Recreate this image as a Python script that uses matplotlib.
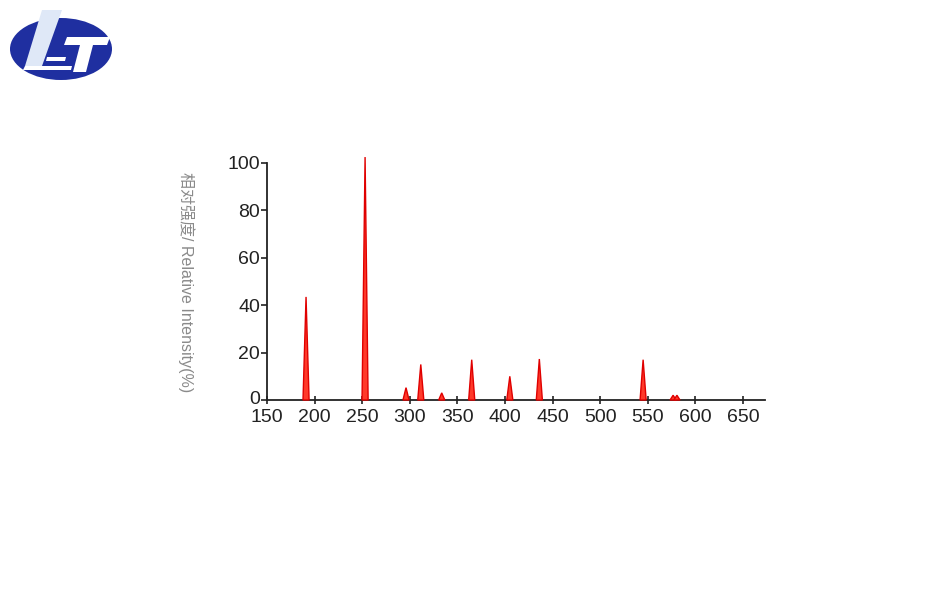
import matplotlib
matplotlib.use("Agg")
import matplotlib.pyplot as plt
import matplotlib.transforms as mtransforms
from matplotlib.patches import Ellipse, Polygon
import numpy as np

plt.rcParams['font.family'] = ['Liberation Sans', 'Noto Sans CJK SC', 'DejaVu Sans']

# Data
wavelengths = [191, 253, 296, 311.5, 333.5, 365, 405, 436, 545, 576.5, 580.5]
intensities = [43.5, 102.5, 5.2, 15, 3, 17, 10, 17.3, 17, 2, 2]
x_ticks = [150, 200, 250, 300, 350, 400, 450, 500, 550, 600, 650]
y_ticks = [0, 20, 40, 60, 80, 100]
ylabel = "相对强度/ Relative Intensity(%)"

W, H = 936, 606
fig = plt.figure(figsize=(W / 100, H / 100), dpi=100)

ax = fig.add_axes([267 / W, 1 - 400 / H, (765 - 267) / W, (400 - 153.5) / H])
ax.set_xlim(150, 673)
ax.set_ylim(0, 104)

half_w = 3.2
for wl, h in zip(wavelengths, intensities):
    xs = [wl - half_w, wl, wl + half_w]
    ys = [0, h, 0]
    ax.fill(xs, ys, facecolor='#ff3a2a', edgecolor='#e00000', lw=1.0, clip_on=False, zorder=3)

for s in ['top', 'right']:
    ax.spines[s].set_visible(False)
ax.spines['left'].set_bounds(0, 100)
ax.spines['left'].set_linewidth(1.3)
ax.spines['bottom'].set_linewidth(1.3)
ax.spines['left'].set_color('#222222')
ax.spines['bottom'].set_color('#222222')
ax.set_xticks(x_ticks)
ax.set_yticks(y_ticks)
ax.tick_params(axis='both', direction='out', length=4, width=1.2, labelsize=14,
               colors='#222222', pad=1)
ax.tick_params(axis='x', direction='inout', length=6, pad=3.5)
for lbl in ax.get_xticklabels() + ax.get_yticklabels():
    lbl.set_fontstretch('condensed')

# nudge the y "0" label up slightly so it does not collide with "150"
ylbls = ax.get_yticklabels()
shift = mtransforms.ScaledTranslation(0, 3 / 100, fig.dpi_scale_trans)
ylbls[0].set_transform(ylbls[0].get_transform() + shift)

fig.text(186 / W, 1 - 282 / H, ylabel, rotation=-90, ha='center', va='center',
         fontsize=11.5, color='#8a8a8a')

# Logo
la = fig.add_axes([0, 0, 1, 1], facecolor='none')
la.set_xlim(0, W)
la.set_ylim(H, 0)
la.axis('off')
la.add_patch(Ellipse((61, 49), 102, 62, facecolor='#1f2fa0', edgecolor='none'))
# L slanted stroke
la.add_patch(Polygon([[42, 10], [62, 10], [42, 66], [25, 66]], closed=True,
                     facecolor='#dfe8f7', edgecolor='none'))
# L bottom bar
la.add_patch(Polygon([[25, 66], [72, 66], [71, 70], [23, 70]], closed=True,
                     facecolor='white', edgecolor='none'))
# T top bar
la.add_patch(Polygon([[67, 37], [110, 37], [107, 45], [64, 45]], closed=True,
                     facecolor='white', edgecolor='none'))
# T stem
la.add_patch(Polygon([[80, 45], [93, 45], [86, 72], [73, 72]], closed=True,
                     facecolor='white', edgecolor='none'))
# small dash between L and T
la.add_patch(Polygon([[47, 57], [66, 57], [65, 61], [46, 61]], closed=True,
                     facecolor='white', edgecolor='none'))

fig.savefig('out.png', dpi=100)
